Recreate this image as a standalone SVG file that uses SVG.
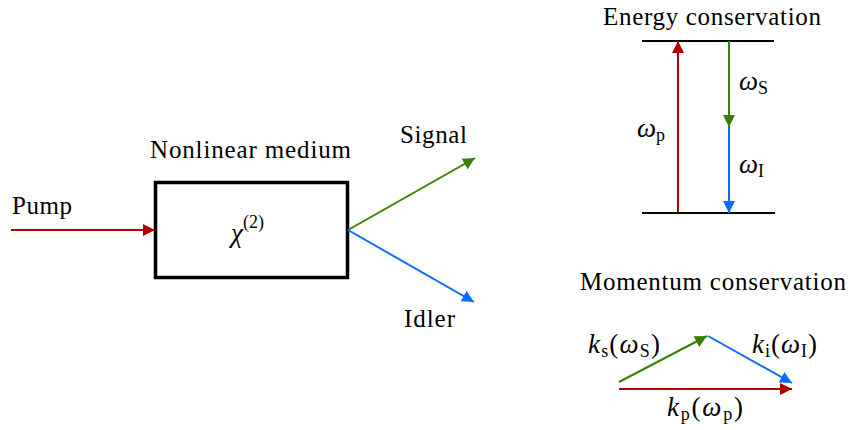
<svg xmlns="http://www.w3.org/2000/svg" width="851" height="430" viewBox="0 0 851 430">
<style>
text{font-family:"Liberation Serif","DejaVu Serif",serif;fill:#000}
.t{font-size:25px}
.m{font-size:27px;font-style:italic}
.s{font-size:18px;font-style:normal}
.r{font-style:normal}
.red{stroke:#b00000;fill:none;stroke-width:2}
.grn{stroke:#3a8000;fill:none;stroke-width:2}
.blu{stroke:#0a6cff;fill:none;stroke-width:2}
.lvl{stroke:#000;stroke-width:2;fill:none}
</style>
<defs>
<marker id="hr" markerUnits="userSpaceOnUse" markerWidth="14" markerHeight="14" viewBox="0 -7 14 14" refX="12" refY="0" orient="auto"><path d="M0,-6L12,0L0,6z" fill="#b00000"/></marker>
<marker id="hg" markerUnits="userSpaceOnUse" markerWidth="14" markerHeight="14" viewBox="0 -7 14 14" refX="12" refY="0" orient="auto"><path d="M0,-6L12,0L0,6z" fill="#3a8000"/></marker>
<marker id="hb" markerUnits="userSpaceOnUse" markerWidth="14" markerHeight="14" viewBox="0 -7 14 14" refX="12" refY="0" orient="auto"><path d="M0,-6L12,0L0,6z" fill="#0a6cff"/></marker>
</defs>

<g id="medium">
<rect x="155.5" y="182.5" width="192" height="95" fill="#fff" stroke="#000" stroke-width="3.5"/>
<text class="t" x="250.5" y="158" text-anchor="middle" textLength="201">Nonlinear medium</text>
<text class="m" x="231" y="242">χ<tspan class="s" dy="-14">(2)</tspan></text>
</g>
<g id="pump-label"><text class="t" x="12" y="214" textLength="60">Pump</text></g>
<g id="signal-label"><text class="t" x="400" y="143" textLength="67">Signal</text></g>
<g id="idler-label"><text class="t" x="404" y="327" textLength="51">Idler</text></g>

<g id="energy">
<text class="t" x="712" y="25" text-anchor="middle" textLength="218">Energy conservation</text>
<line class="lvl" x1="642" y1="41" x2="774" y2="41"/>
<line class="lvl" x1="642" y1="213" x2="775" y2="213"/>
<text class="m" x="637" y="137">ω<tspan class="s" dy="4">p</tspan></text>
<text class="m" x="739" y="90">ω<tspan class="s" dy="4">S</tspan></text>
<text class="m" x="739" y="173">ω<tspan class="s" dy="4">I</tspan></text>
</g>

<g id="momentum">
<text class="t" x="713" y="290" text-anchor="middle" textLength="266">Momentum conservation</text>
<text class="m" x="588" y="353" textLength="72">k<tspan class="s" dy="4">s</tspan><tspan class="r" dy="-4">(</tspan>ω<tspan class="s" dy="4">S</tspan><tspan class="r" dy="-4">)</tspan></text>
<text class="m" x="752" y="353" textLength="65">k<tspan class="s" dy="4">i</tspan><tspan class="r" dy="-4">(</tspan>ω<tspan class="s" dy="4">I</tspan><tspan class="r" dy="-4">)</tspan></text>
<text class="m" x="667" y="416" textLength="76">k<tspan class="s" dy="4">p</tspan><tspan class="r" dy="-4">(</tspan>ω<tspan class="s" dy="4">p</tspan><tspan class="r" dy="-4">)</tspan></text>
</g>

<g id="connectors">
<line class="red" x1="11" y1="230" x2="155" y2="230" marker-end="url(#hr)"/>
<line class="grn" x1="348" y1="230" x2="475" y2="158" marker-end="url(#hg)"/>
<line class="blu" x1="348" y1="230" x2="474" y2="302" marker-end="url(#hb)"/>
<line class="red" x1="678" y1="213" x2="678" y2="41" marker-end="url(#hr)"/>
<line class="grn" x1="729" y1="41" x2="729" y2="127" marker-end="url(#hg)"/>
<line class="blu" x1="729" y1="127" x2="729" y2="213" marker-end="url(#hb)"/>
<line class="red" x1="619" y1="389" x2="792" y2="389" marker-end="url(#hr)"/>
<line class="grn" x1="619" y1="382" x2="707" y2="336" marker-end="url(#hg)"/>
<line class="blu" x1="708" y1="336" x2="792" y2="383" marker-end="url(#hb)"/>
</g>
</svg>
